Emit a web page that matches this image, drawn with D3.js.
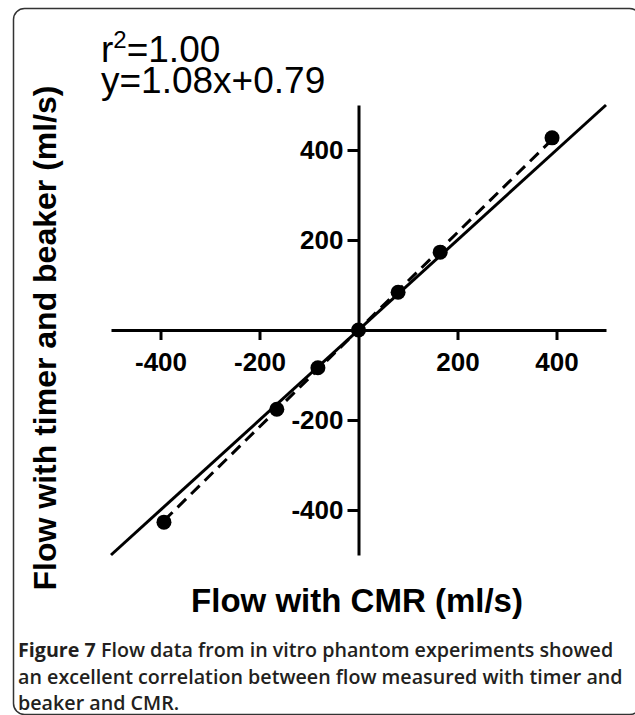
<!DOCTYPE html>
<html>
<head>
<meta charset="utf-8">
<script src="https://cdn.jsdelivr.net/npm/d3@7"></script>
<style>
  body { margin: 0; background: #fff; }
  svg { display: block; }
</style>
</head>
<body>
<div class="chart"></div>
<script>
//Data
var cmrFlow = [-393, -165, -82, 0, 80, 165, 391];
var timerFlow = [-427, -176, -84, 0, 84, 173, 427];
var xTicks = [-400, -200, 200, 400];
var yTicks = [-400, -200, 200, 400];
var axisDomain = [-500, 500];
var fitSlope = 1.08;
var fitIntercept = 0.79;
var rSquared = "1.00";
var captionLines = [
    ["Figure 7", " Flow data from in vitro phantom experiments showed"],
    ["", "an excellent correlation between flow measured with timer and"],
    ["", "beaker and CMR."]
];

//Width and height
var w = 635;
var h = 715;

var svg = d3.select(".chart")
    .append("svg")
    .attr("width", w)
    .attr("height", h);

//Frame (right and bottom edges run off the picture)
svg.append("rect")
    .attr("x", 13.5)
    .attr("y", 8.5)
    .attr("width", 627)
    .attr("height", 706)
    .attr("rx", 11)
    .attr("fill", "none")
    .attr("stroke", "#333")
    .attr("stroke-width", 1.5);

//Scales
var x = d3.scaleLinear().domain(axisDomain).range([111, 606]);
var y = d3.scaleLinear().domain(axisDomain).range([555, 105]);

var font = "'Liberation Sans', Arial, sans-serif";

//Axes crossing at the origin
var xAxis = svg.append("g")
    .attr("transform", "translate(0," + y(0) + ")")
    .call(d3.axisBottom(x).tickValues(xTicks).tickFormat(d => String(d))
        .tickSize(10).tickSizeOuter(0).tickPadding(13));

var yAxis = svg.append("g")
    .attr("transform", "translate(" + x(0) + ",0)")
    .call(d3.axisLeft(y).tickValues(yTicks).tickFormat(d => String(d))
        .tickSize(11).tickSizeOuter(0).tickPadding(4));

[xAxis, yAxis].forEach(g => {
    g.selectAll("path, line").attr("stroke", "#000").attr("stroke-width", 3);
    g.selectAll("text")
        .attr("fill", "#000")
        .style("font-family", font)
        .style("font-weight", "bold")
        .style("font-size", "26px");
    g.attr("font-size", null).attr("font-family", null);
});

//Line of identity
svg.append("line")
    .attr("x1", x(axisDomain[0]))
    .attr("y1", y(axisDomain[0]))
    .attr("x2", x(axisDomain[1]))
    .attr("y2", y(axisDomain[1]))
    .attr("stroke", "#000")
    .attr("stroke-width", 3);

//Regression line over the data range
var xMin = d3.min(cmrFlow), xMax = d3.max(cmrFlow);
svg.append("line")
    .attr("x1", x(xMin))
    .attr("y1", y(fitSlope * xMin + fitIntercept))
    .attr("x2", x(xMax))
    .attr("y2", y(fitSlope * xMax + fitIntercept))
    .attr("stroke", "#000")
    .attr("stroke-width", 3)
    .attr("stroke-dasharray", "12,7");

//Points
svg.append("g")
    .selectAll("circle")
    .data(cmrFlow)
    .join("circle")
    .attr("cx", d => x(d))
    .attr("cy", (d, i) => y(timerFlow[i]))
    .attr("r", 7.5)
    .attr("fill", "#000");

//Fit statistics
var stats = svg.append("g")
    .style("font-family", font)
    .style("font-size", "37px")
    .attr("fill", "#000");

var r2 = stats.append("text").attr("x", 101).attr("y", 62);
r2.append("tspan").text("r");
r2.append("tspan").attr("dy", -14).style("font-size", "24px").text("2");
r2.append("tspan").attr("dy", 14).text("=" + rSquared);

stats.append("text")
    .attr("x", 101)
    .attr("y", 93)
    .text("y=" + fitSlope.toFixed(2) + "x+" + fitIntercept.toFixed(2));

//Axis titles
svg.append("text")
    .attr("x", 357)
    .attr("y", 612)
    .attr("text-anchor", "middle")
    .style("font-family", font)
    .style("font-weight", "bold")
    .style("font-size", "33px")
    .text("Flow with CMR (ml/s)");

svg.append("text")
    .attr("transform", "translate(56,338) rotate(-90)")
    .attr("text-anchor", "middle")
    .style("font-family", font)
    .style("font-weight", "bold")
    .style("font-size", "32px")
    .text("Flow with timer and beaker (ml/s)");

//Caption
var caption = svg.append("g")
    .style("font-family", "'Open Sans', 'Noto Sans', sans-serif")
    .style("font-size", "19.7px")
    .attr("fill", "#231f20");

captionLines.forEach((line, i) => {
    var t = caption.append("text")
        .attr("x", 18)
        .attr("y", 657 + i * 26.5);
    if (line[0]) t.append("tspan").style("font-weight", "bold").text(line[0]);
    t.append("tspan").style("font-weight", "600").text(line[1]);
});
</script>
</body>
</html>
